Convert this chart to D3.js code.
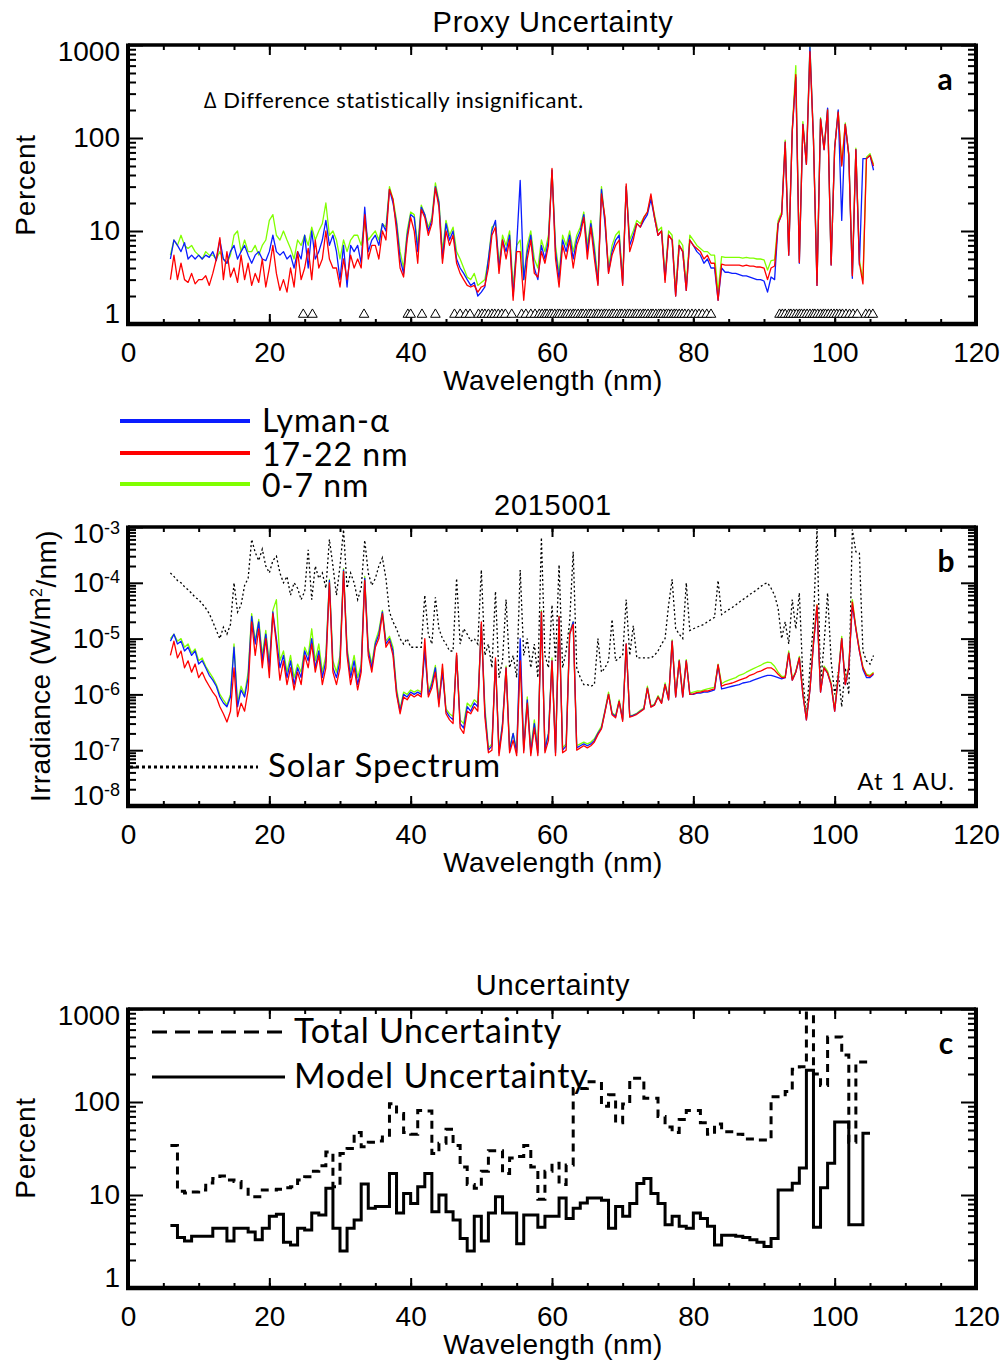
<!DOCTYPE html>
<html>
<head>
<meta charset="utf-8">
<script src="https://cdn.jsdelivr.net/npm/d3@7"></script>
<style>
body { margin: 0; background: #fff; }
svg { display: block; }
</style>
</head>
<body>
<script>
// wavelength grid for panels a and b (nm)
const wl = d3.range(6, 106, 0.5);

// panel a: proxy uncertainty (percent)
const proxyLyA = [
  5, 8, 7, 6, 7.5, 5, 5.5, 5, 5.5, 5,
  5.5, 5.2, 6, 4.8, 8, 5, 4.5, 6, 7, 5,
  6, 7, 5.5, 4.5, 5.5, 6, 5, 4.8, 6, 9,
  6, 5.5, 6, 5, 5.5, 4, 6, 5, 9, 4,
  10, 5, 6, 8, 13, 7, 9, 6, 3, 7,
  2.5, 7, 6, 7, 4.5, 18, 6, 8, 9, 7,
  12, 10, 28, 20, 12, 5, 3.5, 9, 15, 14,
  6, 18, 15, 10, 13, 30, 20, 5, 12, 8,
  10, 5, 4, 3.5, 3, 2.6, 2.8, 2, 2.2, 2.5,
  5, 10, 13, 4, 8, 6, 9, 2, 7, 35,
  3, 6, 9, 4, 3, 7, 5, 8, 45, 6,
  3, 8, 6, 9, 5, 8, 10, 15, 6, 12,
  6, 2.7, 28, 12, 3.6, 6, 8, 9, 2.7, 30,
  7, 9, 12, 11, 13, 15, 22, 14, 9, 10,
  3, 9, 8, 2, 7, 6, 2.3, 8, 7, 6,
  5.5, 4.5, 5, 4, 4, 1.8, 4, 3.6, 3.6, 3.5,
  3.5, 3.4, 3.3, 3.3, 3.2, 3.1, 3.0, 3.0, 2.9, 2.2,
  3.2, 3.0, 12, 15, 90, 5.5, 120, 450, 4.5, 140,
  52, 950, 95, 2.6, 160, 75, 210, 4.3, 78, 200,
  13, 140, 65, 3.1, 75, 4.3, 60, 60, 65, 45
];
const proxy1722 = [
  3, 5.5, 3, 4.5, 3, 2.8, 3.5, 2.7, 3, 3,
  3.3, 2.6, 3.5, 5, 8.5, 3, 6, 3.2, 4, 2.8,
  5.5, 3, 4.5, 2.6, 3.5, 2.8, 5, 2.5, 4, 7,
  3.5, 2.3, 3, 2.2, 4, 2.5, 6, 3, 4, 6.5,
  3, 8, 4, 5, 10, 5, 4, 4, 2.5, 5,
  3, 5.5, 4, 5, 4, 15, 5, 7, 7, 5,
  10, 8, 28, 22, 10, 4, 3.2, 8, 14, 10,
  4.5, 17, 14, 9, 12, 29, 18, 4.5, 10, 7,
  9, 4.5, 3.5, 3, 2.6, 2.5, 2.6, 2.2, 2.5, 2.6,
  4, 9, 11, 3.5, 8, 5, 8, 1.8, 6, 6,
  1.8, 5, 8, 3.5, 3.2, 6, 4.5, 7, 47, 5,
  2.5, 7, 5, 8, 4, 7, 9, 14, 5, 11,
  5, 2.6, 25, 14, 3.5, 5.5, 7, 8, 2.6, 32,
  6, 8, 12, 11, 14, 16, 25, 14, 9, 10,
  2.8, 9, 8, 2, 7, 6, 2.3, 8, 7, 6.5,
  6, 5, 5.5, 4.5, 4.5, 1.8, 4.4, 4.3, 4.3, 4.3,
  4.3, 4.3, 4.2, 4.3, 4.2, 4.2, 4.1, 4.1, 4.0, 3.0,
  4.0, 4.2, 12, 15, 90, 5.5, 120, 480, 4.6, 140,
  52, 850, 95, 2.6, 160, 75, 200, 4.3, 78, 190,
  50, 140, 65, 3.3, 75, 4.5, 2.7, 60, 65, 50
];
const proxy07 = [
  5.5, 8, 7, 9, 7, 6.5, 7, 6, 5.5, 5,
  6, 5.5, 5.5, 5, 6, 5, 4.5, 5.5, 9, 10,
  6, 8, 6, 6, 7, 5.5, 7, 8, 13, 15,
  9, 8, 10, 8, 6.5, 5, 8, 7, 9, 7,
  11, 8, 10, 12, 20, 9, 10, 8, 5, 8,
  6, 8, 9, 9, 7, 12, 8, 9, 10, 8,
  12, 11, 30, 22, 13, 6, 4, 10, 16, 15,
  7, 19, 15, 11, 14, 33, 21, 6, 13, 9,
  11, 6, 5, 4, 3.2, 3, 3.5, 2.6, 2.8, 3,
  5, 11, 12, 4.5, 9, 7, 10, 2.5, 7, 8,
  3, 7, 10, 5, 4, 8, 6, 9, 45, 7,
  3.5, 9, 7, 10, 6, 9, 11, 16, 7, 13,
  7, 3, 30, 13, 4, 7, 9, 10, 3, 30,
  8, 10, 13, 12, 14, 16, 23, 15, 10, 11,
  3.3, 10, 9, 2.2, 8, 7, 2.6, 9, 8, 7,
  6.5, 6, 6, 5.5, 5.5, 2.2, 5.3, 5.2, 5.2, 5.2,
  5.2, 5.2, 5.1, 5.2, 5.1, 5.1, 5.0, 5.0, 4.9, 3.8,
  4.8, 4.9, 13, 16, 95, 6, 125, 600, 5, 150,
  55, 1000, 98, 2.8, 165, 78, 205, 4.5, 80, 195,
  52, 145, 68, 3.5, 78, 4.8, 3.0, 62, 68, 52
];
// wavelengths where the proxy difference is not significant
const insignificant = [
  24.8, 26.1, 33.4, 39.6, 40.0, 41.6, 43.5, 46.2, 47.0, 47.8, 48.4, 49.6, 50.1, 50.5,
  51.0, 51.5, 51.9, 52.4, 52.9, 53.4, 54.3, 55.7, 56.3, 57.0, 57.6,
  58.2, 58.6, 59.0, 59.3, 59.7, 60.0, 60.4, 60.8, 61.1, 61.5, 61.9, 62.2, 62.6, 63.0,
  63.3, 63.7, 64.1, 64.4, 64.8, 65.2, 65.5, 65.9, 66.3, 66.6, 67.0, 67.4, 67.7, 68.1,
  68.5, 68.8, 69.2, 69.6, 69.9, 70.3, 70.7, 71.0, 71.4, 71.8, 72.1, 72.5, 72.9, 73.2,
  73.6, 74.0, 74.3, 74.7, 75.1, 75.4, 75.8, 76.2, 76.5, 76.9, 77.3, 77.6, 78.0, 78.4,
  78.8, 79.3, 79.8, 80.3, 80.8, 81.3, 81.9, 82.5,
  92.2, 92.6, 93.0, 93.5, 93.8, 94.2, 94.6, 95.0, 95.3, 95.7, 96.1, 96.5, 96.9, 97.2,
  97.6, 98.0, 98.4, 98.7, 99.1, 99.5, 99.9, 100.3, 100.7, 101.1, 101.6, 102.1, 102.6,
  103.2, 104.4, 104.9, 105.4
];

// panel b: irradiance, in units of 1e-6 W/m^2/nm
const irrUnit = 1e-6;
const irrLyA = [
  9, 12, 8, 9, 6, 7, 5, 6, 3.5, 4,
  3, 2.2, 1.8, 1.4, 0.9, 0.7, 0.6, 0.9, 7, 0.6,
  1.2, 0.9, 2, 25, 8, 20, 4, 12, 3, 30,
  10, 3, 5, 2, 4, 1.5, 3, 2, 6, 4,
  10, 3, 6, 2, 4, 110, 3, 2, 4, 170,
  6, 2, 4, 1.5, 3, 120, 6, 3, 8, 12,
  30, 8, 10, 6, 1.1, 0.5, 1.0, 0.9, 1.1, 1.0,
  1.1, 1.0, 6, 1.0, 1.5, 3, 0.7, 2.5, 0.5, 0.4,
  0.35, 5, 0.3, 0.25, 0.6, 0.5, 0.7, 0.6, 18, 0.5,
  0.1, 0.12, 4, 0.09, 0.3, 3, 0.1, 0.2, 0.09, 10,
  0.1, 0.8, 0.09, 0.3, 0.09, 30, 0.1, 0.2, 4, 0.09,
  24, 0.1, 0.12, 12, 20, 0.11, 0.12, 0.13, 0.12, 0.13,
  0.15, 0.2, 0.25, 0.5, 1.0, 0.45, 0.4, 0.75, 0.35, 8,
  0.4, 0.42, 0.45, 0.5, 0.55, 1.3, 0.6, 0.65, 0.9, 0.7,
  1.5, 0.8, 9, 0.9, 4, 0.9, 4, 1.0, 1.0, 1.05,
  1.05, 1.1, 1.1, 1.15, 1.2, 3.3, 1.25, 1.3, 1.35, 1.4,
  1.45, 1.5, 1.6, 1.65, 1.7, 1.8, 1.9, 2.0, 2.1, 2.2,
  2.2, 2.1, 2.0, 1.9, 2.0, 5.5, 1.8, 2.5, 4.5, 1.0,
  0.35, 1.2, 8, 37, 1.1, 3, 2.4, 1.5, 0.5, 2,
  10, 1.5, 3, 40, 15, 6, 2.8, 2.0, 2.0, 2.3
];
const irr1722 = [
  5, 9, 4.5, 6, 3, 4, 2.5, 3.5, 2, 2.5,
  1.8, 1.4, 1.1, 0.9, 0.6, 0.45, 0.32, 0.5, 3, 0.4,
  0.7, 0.5, 1.2, 20, 5, 15, 3, 10, 2, 28,
  8, 1.8, 4, 1.5, 3, 1.2, 2.5, 1.5, 5, 3,
  8, 2.5, 5, 1.5, 3, 100, 2.5, 1.5, 3, 160,
  5, 1.5, 3, 1.2, 2.5, 110, 5, 2.5, 7, 10,
  28, 7, 9, 5, 1.0, 0.45, 0.9, 0.8, 1.0, 0.9,
  1.0, 0.9, 10, 0.9, 1.3, 2.5, 0.6, 3.5, 0.45, 0.35,
  0.3, 5.5, 0.25, 0.2, 0.5, 0.45, 0.6, 0.5, 20, 0.4,
  0.09, 0.1, 4.5, 0.08, 0.25, 3, 0.09, 0.15, 0.08, 4,
  0.09, 0.7, 0.08, 0.25, 0.08, 30, 0.09, 0.15, 4, 0.08,
  25, 0.09, 0.1, 12, 18, 0.1, 0.11, 0.12, 0.11, 0.12,
  0.14, 0.19, 0.24, 0.48, 1.0, 0.43, 0.38, 0.75, 0.33, 8,
  0.39, 0.41, 0.44, 0.49, 0.54, 1.3, 0.59, 0.64, 0.9, 0.69,
  1.5, 0.8, 9, 0.9, 4, 0.9, 4, 1.0, 1.02, 1.08,
  1.1, 1.15, 1.15, 1.2, 1.25, 3.4, 1.4, 1.5, 1.55, 1.6,
  1.7, 1.8, 1.9, 2.0, 2.2, 2.3, 2.5, 2.6, 2.8, 3.0,
  3.0, 2.7, 2.3, 2.0, 2.0, 5.5, 1.8, 2.5, 4.5, 1.0,
  0.35, 1.2, 8, 40, 1.1, 3, 2.4, 1.5, 0.5, 2,
  10, 1.5, 3, 45, 15, 6, 3, 2.2, 2.1, 2.4
];
const irr07 = [
  10, 12, 9, 10, 7, 8, 5.5, 6.5, 4, 4.5,
  3.2, 2.5, 2, 1.5, 1, 0.8, 0.65, 1, 8, 0.7,
  1.4, 1, 2.5, 28, 9, 22, 5, 14, 3.5, 32,
  50, 4, 6, 2.5, 5, 2, 3.5, 2.5, 7, 5,
  15, 4, 8, 2.5, 5, 115, 4, 2.5, 5, 180,
  7, 2.5, 5, 2, 3.5, 130, 7, 3.5, 9, 14,
  32, 9, 11, 7, 1.3, 0.55, 1.1, 1.0, 1.2, 1.1,
  1.2, 1.1, 7, 1.1, 1.7, 3.3, 0.8, 3, 0.55, 0.45,
  0.4, 5, 0.35, 0.3, 0.7, 0.6, 0.8, 0.7, 18, 0.6,
  0.11, 0.13, 4, 0.1, 0.3, 3.2, 0.11, 0.2, 0.1, 5,
  0.11, 0.9, 0.1, 0.35, 0.1, 32, 0.11, 0.2, 4.5, 0.1,
  25, 0.11, 0.13, 13, 20, 0.12, 0.13, 0.14, 0.13, 0.14,
  0.16, 0.21, 0.27, 0.52, 1.1, 0.47, 0.42, 0.8, 0.37, 8,
  0.41, 0.43, 0.46, 0.52, 0.57, 1.4, 0.62, 0.67, 0.95, 0.72,
  1.6, 0.85, 9.5, 0.95, 4.2, 0.95, 4.2, 1.05, 1.1, 1.15,
  1.15, 1.2, 1.25, 1.3, 1.35, 3.5, 1.55, 1.7, 1.8, 1.9,
  2.0, 2.2, 2.3, 2.5, 2.7, 2.9, 3.1, 3.3, 3.6, 3.8,
  3.7, 3.2, 2.5, 2.1, 2.1, 6, 1.9, 2.6, 4.8, 1.1,
  0.38, 1.3, 9, 40, 1.2, 3.2, 2.6, 1.6, 0.55, 2.2,
  11, 1.6, 3.2, 50, 16, 6.5, 3.1, 2.3, 2.2, 2.5
];
const irrSolar = [
  150, 130, 110, 100, 85, 75, 65, 55, 50, 42,
  35, 28, 20, 14, 10, 16, 12, 18, 100, 30,
  40, 90, 120, 600, 350, 250, 400, 200, 150, 250,
  300, 150, 100, 130, 60, 100, 80, 50, 70, 390,
  50, 200, 120, 150, 80, 600, 200, 60, 200, 900,
  80, 150, 100, 50, 80, 580, 150, 90, 120, 200,
  280, 120, 30, 20, 15, 10, 8, 10, 7, 7,
  7, 7, 60, 12, 8, 55, 15, 10, 8, 6,
  6, 120, 8, 15, 12, 9, 10, 8, 170, 5,
  8, 3, 70, 2, 4, 50, 3, 5, 2, 170,
  5, 10, 3, 8, 2, 650, 5, 3, 40, 4,
  210, 3, 6, 20, 360, 3, 2, 1.5, 1.5, 1.4,
  1.5, 10, 2.5, 3, 4, 22, 4, 4.5, 5, 50,
  5, 17, 4.5, 4.5, 4.5, 4.5, 4.5, 5, 6, 8,
  10, 40, 115, 15, 12, 10, 100, 14, 15, 16,
  17, 18, 20, 22, 24, 110, 27, 30, 33, 36,
  40, 45, 50, 55, 62, 68, 75, 85, 95, 100,
  80, 60, 35, 10, 20, 8, 50, 15, 66, 2,
  0.4, 3, 20, 950, 1.5, 8, 66, 4, 1, 2.5,
  0.6, 3, 1, 900, 360, 340, 6, 4, 3.5, 5
];

// panel c: 1 nm bins starting at 6 nm (percent)
const binStart = d3.range(6, 105);
const totalUnc = [
  34, 11, 10.5, 10.8, 11.3, 13.5, 15, 16, 14.5, 14,
  12, 9.6, 9.6, 11.3, 11.3, 11.5, 12, 12.3, 14.5, 15.7,
  18, 20.6, 29, 12.3, 28, 31.6, 47, 33, 37, 38,
  44, 96, 75, 47, 45, 81, 80, 28, 36, 51,
  34, 20, 13, 11.8, 18, 30, 30, 17, 25, 26,
  34, 20, 9, 18, 22, 13, 21, 140, 140, 165,
  165, 90, 120, 60, 95, 180, 180, 110, 110, 70,
  54, 47, 65, 81, 81, 60, 45, 58, 48, 48,
  45, 40, 40, 39, 39, 114, 114, 130, 225, 240,
  2500, 200, 150, 500, 500, 320, 37, 270, 270
];
const modelUnc = [
  4.7, 3.5, 3.2, 3.6, 3.6, 3.6, 4.4, 4.4, 3.2, 4.4,
  4.4, 4.0, 3.3, 4.4, 5.9, 6.2, 3.1, 2.9, 4.4, 4.2,
  6.4, 6.1, 11.8, 4.4, 2.5, 4.4, 5.4, 13.1, 7.2, 7.5,
  7.5, 17, 6.4, 10.4, 8.1, 12.3, 17, 6.6, 10, 6.6,
  5.4, 3.4, 2.5, 5.9, 3.2, 6.4, 9.6, 6.4, 6.4, 3.0,
  6.1, 6.1, 4.5, 5.9, 5.9, 9.3, 5.6, 7.2, 8.2, 9.3,
  9.3, 8.8, 4.4, 7.5, 5.9, 8.1, 13.3, 15, 10.4, 8.1,
  4.8, 5.9, 4.6, 4.4, 6.4, 5.6, 4.6, 2.9, 3.7, 3.7,
  3.6, 3.5, 3.3, 3.1, 2.8, 3.4, 11.3, 11.3, 13.4, 19.5,
  220, 4.5, 12, 22, 61, 61, 4.8, 4.8, 46
];

const helv = "'Liberation Sans', Arial, Helvetica, sans-serif";
const cali = "Lato, 'Open Sans', sans-serif";
const blue = "#0a1cff", red = "#ff0000", green = "#80ff00";

const svg = d3.select("body").append("svg")
    .attr("width", 1006)
    .attr("height", 1365);

const x = d3.scaleLinear().domain([0, 120]).range([128, 976]);
const ya = d3.scaleLog().domain([1, 1000]).range([324, 45]);
const yb = d3.scaleLog().domain([1e-8, 1e-3]).range([806, 527]);
const yc = d3.scaleLog().domain([1, 1000]).range([1288, 1009]);

function logMinors(dom) {
    let out = [];
    for (let e = Math.round(Math.log10(dom[0])); e < Math.round(Math.log10(dom[1])); e++) {
        for (let k = 2; k < 10; k++) out.push(k * Math.pow(10, e));
    }
    return out;
}

function addText(t, px, py, size, opts) {
    opts = opts || {};
    return svg.append("text").attr("x", px).attr("y", py)
        .attr("text-anchor", opts.anchor || "start")
        .attr("font-weight", opts.bold ? "bold" : null)
        .style("font-family", opts.font || helv)
        .style("font-size", size + "px")
        .style("letter-spacing", (opts.ls || 0) + "px")
        .text(t);
}

// frame, ticks and labels for one panel
function drawAxes(y, id, powerLabels) {
    const yBot = y.range()[0], yTop = y.range()[1];
    const dom = y.domain();
    const majors = [];
    for (let e = Math.round(Math.log10(dom[0])); e <= Math.round(Math.log10(dom[1])); e++) majors.push(Math.pow(10, e));

    const g = svg.append("g").attr("id", id);

    g.append("g").attr("transform", `translate(0,${yBot})`)
        .call(d3.axisBottom(x).tickValues(d3.range(0, 121, 20)).tickSize(-10).tickPadding(18).tickFormat(d3.format("d")));
    g.append("g").attr("transform", `translate(0,${yBot})`)
        .call(d3.axisBottom(x).tickValues(d3.range(0, 121, 5)).tickSize(-5).tickFormat(""));
    g.append("g").attr("transform", `translate(0,${yTop})`)
        .call(d3.axisTop(x).tickValues(d3.range(0, 121, 20)).tickSize(-10).tickFormat(""));
    g.append("g").attr("transform", `translate(0,${yTop})`)
        .call(d3.axisTop(x).tickValues(d3.range(0, 121, 5)).tickSize(-5).tickFormat(""));

    const left = g.append("g").attr("transform", `translate(${x(0)},0)`)
        .call(d3.axisLeft(y).tickValues(majors).tickSize(-15).tickPadding(8)
            .tickFormat(powerLabels ? () => "" : d3.format("d")));
    g.append("g").attr("transform", `translate(${x(0)},0)`)
        .call(d3.axisLeft(y).tickValues(logMinors(dom)).tickSize(-8).tickFormat(""));
    g.append("g").attr("transform", `translate(${x(120)},0)`)
        .call(d3.axisRight(y).tickValues(majors).tickSize(-15).tickFormat(""));
    g.append("g").attr("transform", `translate(${x(120)},0)`)
        .call(d3.axisRight(y).tickValues(logMinors(dom)).tickSize(-8).tickFormat(""));

    if (powerLabels) {
        left.selectAll(".tick text").each(function (d) {
            const t = d3.select(this);
            const e = Math.round(Math.log10(d));
            t.text("10");
            t.append("tspan").attr("dy", "-0.5em").attr("font-size", "18px")
                .text(e < 0 ? "-" + Math.abs(e) : e);
        });
    }
    // IDL nudges the end labels inside the frame
    left.selectAll(".tick text").attr("transform", d =>
        d === majors[majors.length - 1] ? "translate(0,7)" : d === majors[0] ? "translate(0,-10)" : null);

    g.selectAll(".domain").remove();
    g.selectAll(".tick line").attr("stroke", "#000").attr("stroke-width", 2);
    g.selectAll(".tick text").attr("fill", "#000").style("font-family", helv).style("font-size", "28px");

    // frame
    g.append("line").attr("x1", x(0)).attr("x2", x(120)).attr("y1", yTop).attr("y2", yTop)
        .attr("stroke", "#000").attr("stroke-width", 3.5);
    g.append("line").attr("x1", x(0) - 2).attr("x2", x(120) + 2).attr("y1", yBot).attr("y2", yBot)
        .attr("stroke", "#000").attr("stroke-width", 4.5);
    g.append("line").attr("x1", x(0)).attr("x2", x(0)).attr("y1", yTop - 1.5).attr("y2", yBot)
        .attr("stroke", "#000").attr("stroke-width", 4);
    g.append("line").attr("x1", x(120)).attr("x2", x(120)).attr("y1", yTop - 1.5).attr("y2", yBot)
        .attr("stroke", "#000").attr("stroke-width", 4);

    // clip for data
    svg.append("clipPath").attr("id", "clip-" + id)
        .append("rect").attr("x", x(0)).attr("y", yTop).attr("width", x(120) - x(0)).attr("height", yBot - yTop);

    addText("Wavelength (nm)", 553, yBot + 66, 28, { anchor: "middle", ls: 0.5 });
}

// ---------------- panel a ----------------
const dataA = svg.append("g").attr("clip-path", "url(#clip-pa)");
drawAxes(ya, "pa", false);
const lineA = d3.line().x((d, i) => x(wl[i])).y(d => ya(d));
[[proxy07, green], [proxyLyA, blue], [proxy1722, red]].forEach(([s, c]) => {
    dataA.append("path").datum(s).attr("d", lineA)
        .attr("fill", "none").attr("stroke", c).attr("stroke-width", 1.3).attr("stroke-linejoin", "round");
});
svg.append("g").selectAll("path").data(insignificant).join("path")
    .attr("d", d3.symbol(d3.symbolTriangle, 40))
    .attr("transform", d => `translate(${x(d)},314.5)`)
    .attr("fill", "#fff").attr("stroke", "#000").attr("stroke-width", 1);

addText("Proxy Uncertainty", 553, 32, 29, { anchor: "middle", ls: 0.7 });
addText("Percent", 0, 0, 28, { anchor: "middle", ls: 0.7 }).attr("transform", "translate(35,185) rotate(-90)");
addText("\u2206 Difference statistically insignificant.", 204, 108, 22, { font: cali, ls: 0.5 });
addText("a", 945, 90, 30, { anchor: "middle", bold: true, font: cali });

// legend (one text block, three lines)
[[blue, 421], [red, 453], [green, 484]].forEach(([c, ly]) => {
    svg.append("line").attr("x1", 120).attr("x2", 250).attr("y1", ly).attr("y2", ly)
        .attr("stroke", c).attr("stroke-width", 4);
});
const legA = addText("", 262, 432, 32, { font: cali, ls: 1 });
[["Lyman-\u03b1", 432], ["17-22 nm", 466], ["0-7 nm", 497]].forEach(([t, ty]) => {
    legA.append("tspan").attr("x", 262).attr("y", ty).text(t);
});

// ---------------- panel b ----------------
const dataB = svg.append("g").attr("clip-path", "url(#clip-pb)");
drawAxes(yb, "pb", true);
const lineB = d3.line().x((d, i) => x(wl[i])).y(d => yb(d * irrUnit));
dataB.append("path").datum(irrSolar).attr("d", lineB)
    .attr("fill", "none").attr("stroke", "#000").attr("stroke-width", 1.3).attr("stroke-dasharray", "2,2.5");
[[irr07, green], [irrLyA, blue], [irr1722, red]].forEach(([s, c]) => {
    dataB.append("path").datum(s).attr("d", lineB)
        .attr("fill", "none").attr("stroke", c).attr("stroke-width", 1.3).attr("stroke-linejoin", "round");
});
addText("2015001", 553, 515, 29, { anchor: "middle", ls: 0.7 });
const irrLab = addText("Irradiance (W/m", 0, 0, 28, { anchor: "middle", ls: 0.4 }).attr("transform", "translate(50,666) rotate(-90)");
irrLab.append("tspan").attr("dy", "-0.5em").style("font-size", "16px").text("2");
irrLab.append("tspan").attr("dy", "0.5em").text("/nm)");
svg.append("line").attr("x1", 130).attr("x2", 258).attr("y1", 767).attr("y2", 767)
    .attr("stroke", "#000").attr("stroke-width", 3).attr("stroke-dasharray", "3,3");
addText("Solar Spectrum", 268, 777, 33, { font: cali, ls: 1 });
addText("At 1 AU.", 955, 790, 24, { anchor: "end", font: cali, ls: 1.2 });
addText("b", 946, 572, 30, { anchor: "middle", bold: true, font: cali });

// ---------------- panel c ----------------
const dataC = svg.append("g").attr("clip-path", "url(#clip-pc)");
drawAxes(yc, "pc", false);
const stepC = d3.line().curve(d3.curveStepAfter).x(d => x(d[0])).y(d => yc(d[1]));
function binPoints(vals) {
    const pts = binStart.map((b, i) => [b, vals[i]]);
    pts.push([binStart[binStart.length - 1] + 1, vals[vals.length - 1]]);
    return pts;
}
dataC.append("path").datum(binPoints(totalUnc)).attr("d", stepC)
    .attr("fill", "none").attr("stroke", "#000").attr("stroke-width", 3).attr("stroke-dasharray", "8,6");
dataC.append("path").datum(binPoints(modelUnc)).attr("d", stepC)
    .attr("fill", "none").attr("stroke", "#000").attr("stroke-width", 3);

addText("Uncertainty", 553, 995, 29, { anchor: "middle", ls: 0.7 });
addText("Percent", 0, 0, 28, { anchor: "middle", ls: 0.7 }).attr("transform", "translate(35,1148) rotate(-90)");
svg.append("line").attr("x1", 152).attr("x2", 285).attr("y1", 1032).attr("y2", 1032)
    .attr("stroke", "#000").attr("stroke-width", 3).attr("stroke-dasharray", "15,8");
addText("Total Uncertainty", 294, 1043, 34, { font: cali, ls: 0.7 });
svg.append("line").attr("x1", 152).attr("x2", 285).attr("y1", 1077).attr("y2", 1077)
    .attr("stroke", "#000").attr("stroke-width", 3);
addText("Model Uncertainty", 294, 1088, 34, { font: cali, ls: 0.9 });
addText("c", 946, 1054, 30, { anchor: "middle", bold: true, font: cali });
</script>
</body>
</html>
